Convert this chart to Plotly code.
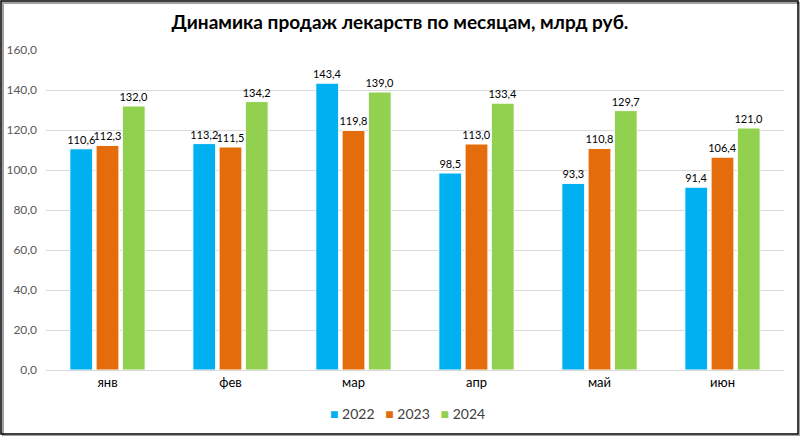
import plotly.graph_objects as go

months = ["янв", "фев", "мар", "апр", "май", "июн"]
years = ["2022", "2023", "2024"]
v2022 = [110.6, 113.2, 143.4, 98.5, 93.3, 91.4]
v2023 = [112.3, 111.5, 119.8, 113.0, 110.8, 106.4]
v2024 = [132.0, 134.2, 139.0, 133.4, 129.7, 121.0]
colors = ["#00B0F0", "#E46C0A", "#92D050"]
yticks = [0, 20, 40, 60, 80, 100, 120, 140, 160]

W, H = 800, 436
ml, mr, mt, mb = 46, 16, 50, 66
pw, ph = W - ml - mr, H - mt - mb
FONT = "Lato, Open Sans, Liberation Sans, sans-serif"

fig = go.Figure()
for name, vals, c in zip(years, [v2022, v2023, v2024], colors):
    fig.add_trace(go.Bar(
        x=months, y=vals, name=name,
        marker=dict(color=c, line=dict(color="white", width=1)),
        texttemplate="%{y:.1f}", textposition="outside",
        textfont=dict(size=11, color="#000000", family=FONT),
        constraintext="none",
        cliponaxis=False,
        showlegend=False,
    ))

def px_x(p):
    return (p - ml) / pw

def px_y(p):
    return (H - mb - p) / ph

legend_text = "&nbsp;&nbsp;&nbsp;".join(
    f"<span style='color:{c}'>■</span> {y}" for y, c in zip(years, colors)
)

fig.update_layout(
    width=W, height=H,
    margin=dict(l=ml, r=mr, t=mt, b=mb, autoexpand=False),
    separators=", ",
    font=dict(family=FONT, size=12, color="#404040"),
    paper_bgcolor="white", plot_bgcolor="white",
    title=dict(text="<b>Динамика продаж лекарств по месяцам, млрд руб.</b>",
               x=0.5, xanchor="center", y=1 - 22 / H, yanchor="middle",
               font=dict(size=19, color="#000000", family=FONT)),
    barmode="group", bargap=0.36, bargroupgap=0.13,
    showlegend=False,
    annotations=[dict(text=legend_text, xref="paper", yref="paper",
                      x=0.5 - 8 / pw, y=px_y(413), xanchor="center", yanchor="middle",
                      showarrow=False, font=dict(size=14, color="#404040"))],
    xaxis=dict(showgrid=False, showline=True, linecolor="#d9d9d9", linewidth=1,
               tickfont=dict(size=13, color="#000000"), ticks="", automargin=False),
    yaxis=dict(range=[0, 160], tickvals=yticks, tickformat=".1f",
               showgrid=True, gridcolor="#d9d9d9", gridwidth=1, zeroline=False,
               tickfont=dict(size=12, color="#595959"), ticks="",
               ticklabelstandoff=8, automargin=False),
    shapes=[
        dict(type="rect", xref="paper", yref="paper",
             x0=px_x(3), x1=px_x(800), y0=px_y(436), y1=px_y(3),
             line=dict(color="#a0a0a0", width=2), layer="below"),
        dict(type="rect", xref="paper", yref="paper",
             x0=px_x(1), x1=px_x(798), y0=px_y(434), y1=px_y(1),
             line=dict(color="#000000", width=1.5), layer="below"),
    ],
)

fig.write_html("out.html", config={"displayModeBar": False},
               post_script="document.body.style.margin='0';document.body.style.overflow='hidden';")
